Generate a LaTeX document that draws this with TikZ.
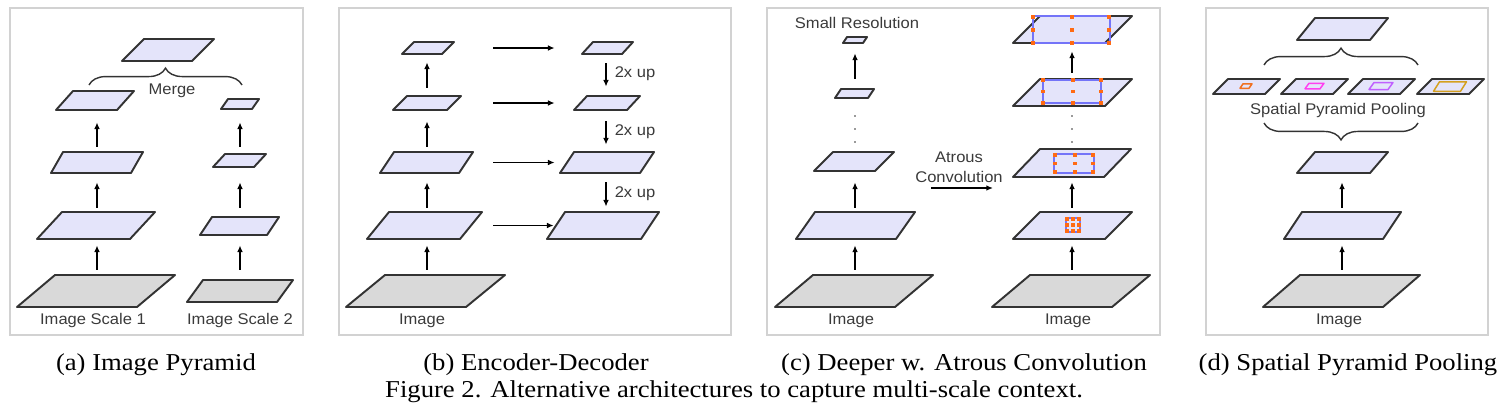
\documentclass[tikz,border=0pt]{standalone}
\usepackage{fontspec}
\setmainfont{Liberation Serif}
\newfontfamily\capfont[FakeStretch=1.1]{Liberation Serif}
\newfontfamily\lsans[FakeStretch=1.07]{Liberation Sans}
\usetikzlibrary{arrows.meta,fit,decorations.pathreplacing}
\newdimen\px \px=0.02cm
\definecolor{lav}{HTML}{E4E4FA}
\definecolor{gry}{HTML}{D9D9D9}
\definecolor{edge}{HTML}{333333}
\definecolor{txt}{HTML}{3A3A3A}
\definecolor{dotor}{HTML}{FF6A13}
\definecolor{rectbl}{HTML}{7474F8}
\definecolor{frm}{HTML}{D2D2D2}
\definecolor{sorange}{HTML}{F07020}
\definecolor{smagenta}{HTML}{FF40F0}
\definecolor{sviolet}{HTML}{C060FF}
\definecolor{sgold}{HTML}{D4A020}
\newcommand{\plane}[7]{%
  \draw[planeedge,#7] (#2,#3) coordinate (#1-bl) -- ++(#4,0) -- ++(#5,-#6) coordinate (#1-tr) -- ++(-#4,0) -- cycle;
  \node[fit=(#1-bl)(#1-tr),inner sep=0pt] (#1) {};
}
\newcommand{\smallpara}[6]{% color cx cy w skew h
  \draw[#1,line width=0.85pt,line join=round] (#2-#4/2-#5/2,#3+#6/2) -- ++(#4,0) -- ++(#5,-#6) -- ++(-#4,0) -- cycle;
}
\newcommand{\odots}[6]{% x1 x2 x3 y1 y2 y3
  \foreach \xx in {#1,#2,#3}{\foreach \yy in {#4,#5,#6}{\fill[dotor] (\xx-1.8,\yy-1.8) rectangle ++(3.6,3.6);}}
}
\begin{document}
\begin{tikzpicture}[x=0.02cm,y=-0.02cm,
  planeedge/.style={draw=edge,line width=1.1pt,line join=round},
  lavfill/.style={fill=lav}, gryfill/.style={fill=gry},
  arr/.style={draw=black,line width=0.8pt,-{Latex[length=3.8pt,width=3.2pt]}},
  upar/.style 2 args={arr,shorten <=#1\px,shorten >=#2\px},
  lbl/.style={font=\lsans\fontsize{8.8}{10}\selectfont,text=txt,inner sep=0pt,anchor=base},
  captxt/.style={font=\capfont\fontsize{13.8}{16}\selectfont,inner sep=0pt,anchor=base},
  panelframe/.style={draw=frm,line width=0.9pt},
  brc/.style={decorate,decoration={brace,amplitude=9.6pt},draw=edge,line width=0.8pt},
  bluer/.style={draw=rectbl,line width=0.8pt},
  vdots/.style={fill=edge}
]
\useasboundingbox (0,0) rectangle (1500,417);
% frames
\draw[panelframe] (10,8) rectangle (303,335);
\draw[panelframe] (339,8) rectangle (731,335);
\draw[panelframe] (767,8) rectangle (1160,335);
\draw[panelframe] (1206,8) rectangle (1488,335);

% ---------- (a) ----------
\plane{a1}{17}{307}{120}{38}{32}{gryfill}
\plane{a2}{37}{239}{93}{25}{27}{lavfill}
\plane{a3}{51}{173}{80}{12}{21}{lavfill}
\plane{a4}{56}{110}{61}{17}{19}{lavfill}
\plane{a5}{122}{61}{70}{22}{22}{lavfill}
\plane{b1}{187}{302}{90}{16}{22}{gryfill}
\plane{b2}{200}{235}{67}{12}{18}{lavfill}
\plane{b3}{213}{167}{41}{12}{13}{lavfill}
\plane{b4}{221}{109}{31}{7}{10}{lavfill}
\coordinate (axa) at (97,0);
\coordinate (axb) at (240,0);
\draw[upar={5}{6}] (a1.north -| axa) -- (a2.south -| axa);
\draw[upar={4}{9}] (a2.north -| axa) -- (a3.south -| axa);
\draw[upar={5}{12}] (a3.north -| axa) -- (a4.south -| axa);
\draw[upar={10}{10}] (b1.north -| axb) -- (b2.south -| axb);
\draw[upar={9}{15}] (b2.north -| axb) -- (b3.south -| axb);
\draw[upar={7}{13}] (b3.north -| axb) -- (b4.south -| axb);
\coordinate (mbl) at (89,85);
\coordinate (mbr) at (242,85);
\draw[brc] (mbl) -- (mbr);
\node[lbl] (merge) at (172,94) {Merge};
\node[lbl] (is1) at (93,324) {Image Scale 1};
\node[lbl] (is2) at (240,324) {Image Scale 2};

% ---------- (b) ----------
\plane{c1}{346}{307}{120}{39}{32}{gryfill}
\plane{c2}{367}{239}{93}{22}{27}{lavfill}
\plane{c3}{380}{173}{79}{14}{21}{lavfill}
\plane{c4}{393}{110}{54}{14}{14}{lavfill}
\plane{c5}{402}{54}{40}{12}{12}{lavfill}
\plane{d2}{547}{239}{94}{18}{27}{lavfill}
\plane{d3}{560}{173}{80}{14}{21}{lavfill}
\plane{d4}{574}{110}{53}{13}{14}{lavfill}
\plane{d5}{582}{54}{40}{11}{12}{lavfill}
\coordinate (axc) at (427,0);
\coordinate (axd) at (606,0);
\draw[upar={5}{6}] (c1.north -| axc) -- (c2.south -| axc);
\draw[upar={4}{9}] (c2.north -| axc) -- (c3.south -| axc);
\draw[upar={5}{11}] (c3.north -| axc) -- (c4.south -| axc);
\draw[upar={8}{8}] (c4.north -| axc) -- (c5.south -| axc);
\draw[upar={39}{27}] (c5) -- (d5);
\draw[upar={32}{19}] (c4) -- (d4);
\draw[upar={20}{5}] (c3) -- (d3);
\draw[upar={11}{-7}] (c2) -- (d2);
\draw[upar={9}{9}] (d5.south -| axd) -- (d4.north -| axd);
\draw[upar={11}{7}] (d4.south -| axd) -- (d3.north -| axd);
\draw[upar={9}{5}] (d3.south -| axd) -- (d2.north -| axd);
\node[lbl] (up1) at (635,77) {2x up};
\node[lbl] (up2) at (635,135) {2x up};
\node[lbl] (up3) at (635,197) {2x up};
\node[lbl] (imb) at (422,324) {Image};

% ---------- (c) ----------
\plane{e1}{775}{307}{120}{38}{32}{gryfill}
\plane{e2}{796}{239}{100}{19}{27}{lavfill}
\plane{e3}{814}{171}{61}{19}{19}{lavfill}
\plane{e4}{835}{98}{33}{6}{9}{lavfill}
\plane{e5}{843}{43}{20}{4}{6}{lavfill}
\coordinate (axe) at (855,0);
\draw[upar={5}{6}] (e1.north -| axe) -- (e2.south -| axe);
\draw[upar={4}{11}] (e2.north -| axe) -- (e3.south -| axe);
\draw[upar={10}{10}] (e4.north -| axe) -- (e5.south -| axe);
\foreach \yy in {116,129,142}{\fill[vdots] (855,\yy) circle (0.9);}
\node[lbl] (smallres) at (857,28) {Small Resolution};
\node[lbl] (imc1) at (851,324) {Image};

\plane{f1}{992}{307}{120}{38}{32}{gryfill}
\plane{f2}{1013}{239}{92}{27}{27}{lavfill}
\plane{f3}{1013}{177}{91}{27}{28}{lavfill}
\plane{f4}{1013}{106}{92}{27}{27}{lavfill}
\plane{f5}{1013}{43}{92}{27}{27}{lavfill}
\coordinate (axf) at (1072,0);
\draw[upar={5}{6}] (f1.north -| axf) -- (f2.south -| axf);
\draw[upar={4}{5}] (f2.north -| axf) -- (f3.south -| axf);
\draw[upar={6}{8}] (f4.north -| axf) -- (f5.south -| axf);
\foreach \yy in {116,129,142}{\fill[vdots] (1072,\yy) circle (0.9);}
% dilated kernels
\draw[bluer] (1066,218) rectangle (1080,232);
\odots{1067}{1073}{1079}{219}{225}{231}
\draw[bluer] (1054,154) rectangle (1094,173);
\odots{1055}{1075}{1093}{155}{163.5}{172}
\draw[bluer] (1043,80) rectangle (1101,103);
\odots{1043}{1073}{1101}{80}{91.5}{103}
\draw[bluer] (1033,16) rectangle (1110,43);
\odots{1033}{1072}{1109}{17}{30}{43}
\node[lbl] (imc2) at (1068,324) {Image};
\node[lbl] (atr1) at (959,162) {Atrous};
\node[lbl] (atr2) at (959,182) {Convolution};
\coordinate (atA) at (931,188);
\coordinate (atB) at (993,188);
\draw[arr] (atA) -- (atB);

% ---------- (d) ----------
\plane{g1}{1263}{307}{120}{37}{32}{gryfill}
\plane{g2}{1284}{239}{99}{18}{27}{lavfill}
\plane{g3}{1297}{173}{73}{18}{21}{lavfill}
\plane{g4}{1297}{40}{73}{18}{22}{lavfill}
\plane{p1}{1213}{94}{52}{15}{15}{lavfill}
\plane{p2}{1281}{94}{52}{15}{15}{lavfill}
\plane{p3}{1348}{94}{52}{15}{15}{lavfill}
\plane{p4}{1417}{94}{52}{15}{15}{lavfill}
\smallpara{sorange}{1246}{86}{9}{3}{4.5}
\smallpara{smagenta}{1314.5}{86}{15}{4}{5.5}
\smallpara{sviolet}{1381}{86}{19}{5}{7}
\smallpara{sgold}{1450}{86.5}{27}{6}{9.5}
\coordinate (axg) at (1342,0);
\draw[upar={5}{6}] (g1.north -| axg) -- (g2.south -| axg);
\draw[upar={4}{9}] (g2.north -| axg) -- (g3.south -| axg);
\coordinate (sbl1) at (1264,65);
\coordinate (sbr1) at (1418,65);
\draw[brc] (sbl1) -- (sbr1);
\coordinate (sbl2) at (1264,123);
\coordinate (sbr2) at (1418,123);
\draw[brc] (sbr2) -- (sbl2);
\node[lbl] (spp) at (1338,114) {Spatial Pyramid Pooling};
\node[lbl] (imd) at (1339,324) {Image};

% ---------- captions ----------
\node[captxt] (capa) at (156,370) {(a) Image Pyramid};
\node[captxt] (capb) at (536,370) {(b) Encoder-Decoder};
\node[captxt] (capc) at (964,370) {(c) Deeper w. Atrous Convolution};
\node[captxt] (capd) at (1348,370) {(d) Spatial Pyramid Pooling};
\node[captxt] (fig) at (734,397) {Figure 2. Alternative architectures to capture multi-scale context.};
\end{tikzpicture}
\end{document}
